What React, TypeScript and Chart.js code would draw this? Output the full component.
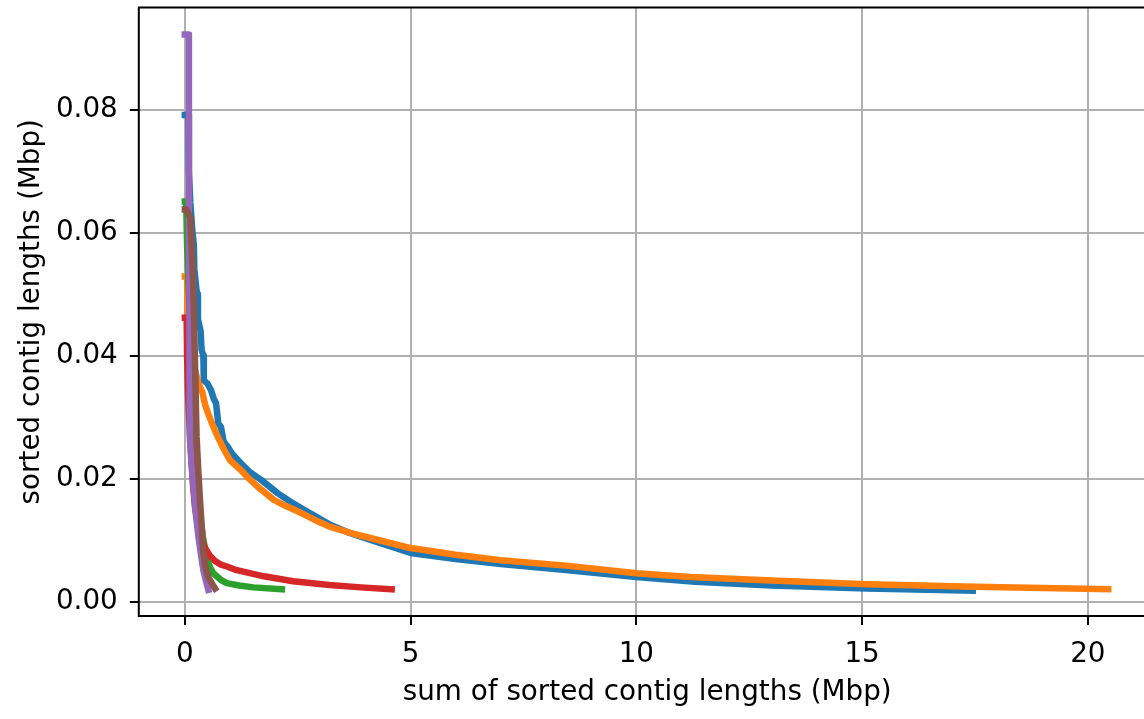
import { useEffect, useRef } from "react";
import { Chart, registerables } from "chart.js";

Chart.register(...registerables);

// ---- data (Mbp) ----
const xTicks = [0, 5, 10, 15, 20];
const yTicks = [0, 0.02, 0.04, 0.06, 0.08];

const blueX = [0, 0.08, 0.09, 0.12, 0.17, 0.2, 0.21, 0.27, 0.29, 0.35, 0.37, 0.41, 0.42, 0.5, 0.58, 0.64, 0.69, 0.74, 0.8, 0.86, 0.95, 1.05, 1.24, 1.45, 1.69, 2.06, 2.35, 2.65, 3.24, 3.6, 4.13, 5, 6, 7, 8.5, 10, 11.3, 13, 15.1, 17.45];
const blueY = [0.0792, 0.0792, 0.07, 0.065, 0.06, 0.058, 0.054, 0.05, 0.046, 0.044, 0.041, 0.04, 0.036, 0.0355, 0.0344, 0.033, 0.0323, 0.029, 0.0284, 0.026, 0.0252, 0.024, 0.0225, 0.021, 0.0198, 0.0176, 0.0162, 0.0149, 0.0124, 0.0113, 0.01, 0.0079, 0.0069, 0.0061, 0.0051, 0.004, 0.0032, 0.0026, 0.0021, 0.00176];

const orangeX = [0, 0.05, 0.06, 0.1, 0.18, 0.25, 0.3, 0.39, 0.45, 0.5, 0.6, 0.73, 0.87, 1.0, 1.24, 1.42, 1.61, 1.98, 2.25, 2.58, 2.9, 3.24, 3.7, 4.13, 5, 6, 7, 8.5, 10, 11.2, 13, 15.1, 17.5, 20.45];
const orangeY = [0.0529, 0.0529, 0.046, 0.042, 0.039, 0.037, 0.0355, 0.034, 0.032, 0.0309, 0.029, 0.0268, 0.0247, 0.023, 0.0214, 0.02, 0.0187, 0.0165, 0.0155, 0.0144, 0.0132, 0.0121, 0.0111, 0.0103, 0.0087, 0.0076, 0.0067, 0.0058, 0.0046, 0.004, 0.0034, 0.0028, 0.0024, 0.002];

const greenX = [0, 0.03, 0.05, 0.08, 0.12, 0.16, 0.2, 0.25, 0.32, 0.4, 0.48, 0.56, 0.63, 0.8, 0.93, 1.2, 1.52, 2.15];
const greenY = [0.0651, 0.0651, 0.058, 0.052, 0.045, 0.036, 0.03, 0.022, 0.015, 0.0105, 0.0073, 0.0055, 0.0046, 0.0035, 0.003, 0.0026, 0.0023, 0.002];

const redX = [0, 0.04, 0.05, 0.07, 0.1, 0.14, 0.18, 0.23, 0.32, 0.44, 0.55, 0.67, 0.8, 0.93, 1.15, 1.75, 2.4, 3.2, 3.9, 4.58];
const redY = [0.0462, 0.0462, 0.04, 0.034, 0.029, 0.024, 0.019, 0.015, 0.0115, 0.0088, 0.0075, 0.0066, 0.006, 0.0057, 0.0051, 0.0041, 0.0033, 0.0027, 0.0023, 0.002];

const purpleX = [0, 0.09, 0.09, 0.1, 0.11, 0.11, 0.15, 0.19, 0.24, 0.3, 0.36, 0.41, 0.47, 0.52];
const purpleY = [0.0923, 0.0923, 0.062, 0.05, 0.0377, 0.0268, 0.022, 0.0187, 0.0145, 0.0106, 0.0075, 0.0051, 0.0033, 0.0019];

const brownX = [0, 0.03, 0.12, 0.15, 0.19, 0.22, 0.26, 0.3, 0.34, 0.38, 0.41, 0.46, 0.52, 0.6, 0.67];
const brownY = [0.0638, 0.0638, 0.0625, 0.0578, 0.0507, 0.0404, 0.0268, 0.021, 0.016, 0.0115, 0.0079, 0.0055, 0.004, 0.0029, 0.0021];

const seriesNames = ["blue", "orange", "green", "red", "purple", "brown"];
const seriesColors = ["#1f77b4", "#ff7f0e", "#2ca02c", "#d62728", "#9467bd", "#8c564b"];
const seriesXs = [blueX, orangeX, greenX, redX, purpleX, brownX];
const seriesYs = [blueY, orangeY, greenY, redY, purpleY, brownY];

const FONT = "'DejaVu Sans', sans-serif";
const FS = 27.8;

const spines = {
  id: "spines",
  afterDatasetsDraw(chart: any) {
    const { ctx, chartArea } = chart;
    const { left, top, right, bottom } = chartArea;
    ctx.save();
    ctx.strokeStyle = "#000";
    ctx.lineWidth = 2;
    ctx.strokeRect(left, top, right - left, bottom - top);
    ctx.restore();
  },
};

export default function App() {
  const ref = useRef<HTMLCanvasElement | null>(null);
  useEffect(() => {
    document.body.style.margin = "0";
    const canvas = ref.current!;
    const datasets = seriesNames.map((name, i) => ({
      label: name,
      data: seriesXs[i].map((x, j) => ({ x, y: seriesYs[i][j] })),
      borderColor: seriesColors[i],
      backgroundColor: seriesColors[i],
      borderWidth: 6.5,
      pointRadius: 0,
      tension: 0,
      fill: false,
      borderCapStyle: "square" as const,
      borderJoinStyle: "round" as const,
      order: seriesNames.length - i,
    }));
    const chart = new Chart(canvas, {
      type: "line",
      data: { datasets },
      plugins: [spines],
      options: {
        animation: false,
        responsive: false,
        devicePixelRatio: 1,
        layout: { padding: { left: 0, top: 7.5, right: 4.4, bottom: 0 } },
        plugins: { legend: { display: false }, tooltip: { enabled: false } },
        scales: {
          x: {
            type: "linear",
            min: -1.02,
            max: 21.5,
            afterBuildTicks: (s: any) => {
              s.ticks = xTicks.map((v) => ({ value: v }));
            },
            afterFit: (s: any) => {
              s.height = 103;
              s.paddingLeft = 0;
              s.paddingRight = 0;
            },
            border: { display: false },
            grid: {
              color: "#b0b0b0",
              lineWidth: 2,
              drawTicks: true,
              tickLength: 9,
              tickColor: "#000",
              tickWidth: 2,
            },
            ticks: {
              color: "#000",
              font: { family: FONT, size: FS },
              padding: 13,
              autoSkip: false,
              maxRotation: 0,
              callback: (v: any) => String(v),
            },
            title: {
              display: true,
              text: "sum of sorted contig lengths (Mbp)",
              color: "#000",
              font: { family: FONT, size: FS, lineHeight: 1.2 },
              padding: { top: 0, bottom: 9.7 },
            },
          },
          y: {
            type: "linear",
            min: -0.00236,
            max: 0.0967,
            afterBuildTicks: (s: any) => {
              s.ticks = yTicks.map((v) => ({ value: v }));
            },
            afterFit: (s: any) => {
              s.width = 138.8;
              s.paddingTop = 0;
              s.paddingBottom = 0;
            },
            border: { display: false },
            grid: {
              color: "#b0b0b0",
              lineWidth: 2,
              drawTicks: true,
              tickLength: 9,
              tickColor: "#000",
              tickWidth: 2,
            },
            ticks: {
              color: "#000",
              font: { family: FONT, size: FS },
              padding: 12,
              autoSkip: false,
              callback: (v: any) => Number(v).toFixed(2),
            },
            title: {
              display: true,
              text: "sorted contig lengths (Mbp)",
              color: "#000",
              font: { family: FONT, size: FS, lineHeight: 1.2 },
              padding: { top: 15, bottom: 0 },
            },
          },
        },
      },
    });
    return () => chart.destroy();
  }, []);
  return (
    <div style={{ position: "absolute", left: 0, top: 0, width: 1144, height: 719, overflow: "hidden" }}>
      <canvas ref={ref} width={1160} height={719} style={{ width: 1160, height: 719, display: "block" }} />
    </div>
  );
}
